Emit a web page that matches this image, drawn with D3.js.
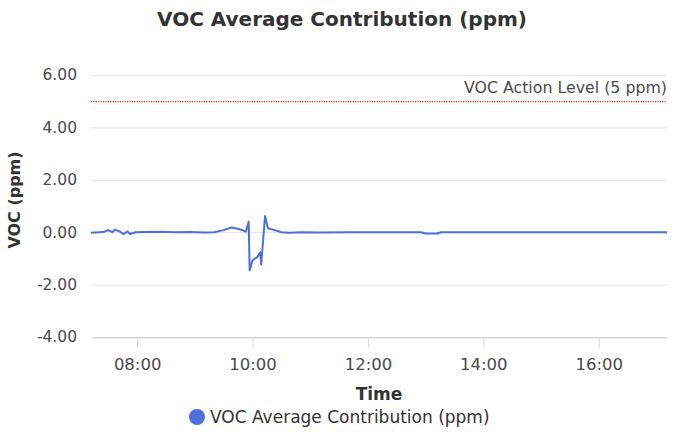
<!DOCTYPE html>
<html>
<head>
<meta charset="utf-8">
<script src="https://cdn.jsdelivr.net/npm/d3@7"></script>
<style>
  body { margin: 0; background: #fff; }
  text { font-family: "DejaVu Sans", sans-serif; }
</style>
</head>
<body>
<div id="chart"></div>
<script>
// readings, "HH:MM" and ppm
const times = ["07:12","07:20","07:26","07:30","07:34","07:37","07:42","07:46","07:50","07:53","07:58",
  "08:10","08:25","08:40","08:55","09:10","09:20","09:30","09:38","09:46","09:53","09:56","09:57",
  "10:00","10:05","10:08","10:09","10:13","10:16","10:23","10:30","10:38","10:50","11:10","11:40",
  "12:20","12:55","13:00","13:12","13:16","13:40","14:30","15:30","16:30","17:11"]
const values = [-0.02,0.0,0.02,0.08,0.0,0.1,0.02,-0.07,0.03,-0.07,0.0,
  0.01,0.02,0.0,0.01,-0.01,0.0,0.08,0.18,0.12,0.02,0.4,-1.45,
  -1.07,-0.95,-0.77,-1.23,0.62,0.15,0.08,0.0,-0.02,0.0,-0.01,0.0,
  0.0,0.0,-0.05,-0.05,0.0,0.0,0.0,0.0,0.0,0.0]
const yTicks = [-4, -2, 0, 2, 4, 6]
const actionLevel = 5
const seriesName = "VOC Average Contribution (ppm)"

const width = 684, height = 432
const plotLeft = 91, plotRight = 667, plotTop = 75, plotBottom = 337
const lineColor = "#4d6fdb"

const parseTime = d3.timeParse("%H:%M")
const dataset = times.map((t, i) => [parseTime(t), values[i]])

const xScale = d3.scaleTime()
                  .domain([parseTime("07:12"), parseTime("17:11")])
                  .range([plotLeft, plotRight])
const yScale = d3.scaleLinear()
                  .domain([-4, 6])
                  .range([plotBottom, plotTop])

const svg = d3.select("#chart")
              .append("svg")
                .attr("width", width)
                .attr("height", height)

// grid lines
svg.append("g")
    .selectAll("line")
    .data(yTicks).enter()
    .append("line")
      .attr("x1", plotLeft).attr("x2", plotRight)
      .attr("y1", d => yScale(d) + 0.5).attr("y2", d => yScale(d) + 0.5)
      .attr("stroke", "#e3e3e3")

// Y Axis
const yAxis = d3.axisLeft(yScale).tickValues(yTicks).tickSize(0).tickPadding(14)
                .tickFormat(d => d.toFixed(2))
const yg = svg.append("g")
    .attr("transform", "translate(" + plotLeft + ",0)")
    .call(yAxis)
yg.select(".domain").remove()
yg.selectAll("text").attr("font-size", 15.5).attr("fill", "#4a4a4a")
    .attr("font-family", "DejaVu Sans, sans-serif")

svg.append("text")
    .text("VOC (ppm)")
    .attr("text-anchor", "middle")
    .attr("font-size", 16)
    .attr("font-weight", "bold")
    .attr("fill", "#333")
    .attr("transform", "translate(20,200)rotate(-90)")

// X Axis
const xAxis = d3.axisBottom(xScale)
                .ticks(d3.timeHour.every(2))
                .tickFormat(d3.timeFormat("%H:%M"))
                .tickSize(10).tickPadding(11).tickSizeOuter(0)
const xg = svg.append("g")
    .attr("transform", "translate(0," + (plotBottom + 0.5) + ")")
    .call(xAxis)
xg.select(".domain").attr("stroke", "#d0d0d0")
xg.selectAll(".tick line").attr("stroke", "#d8d8d8")
xg.selectAll("text").attr("font-size", 16.5).attr("fill", "#4a4a4a")
    .attr("font-family", "DejaVu Sans, sans-serif")

svg.append("text")
    .text("Time")
    .attr("text-anchor", "middle")
    .attr("font-size", 17)
    .attr("font-weight", "bold")
    .attr("fill", "#333")
    .attr("x", (plotLeft + plotRight) / 2)
    .attr("y", 400)

// Title
svg.append("text")
    .text(seriesName)
    .attr("text-anchor", "middle")
    .attr("font-size", 20)
    .attr("font-weight", "bold")
    .attr("fill", "#333")
    .attr("x", width / 2)
    .attr("y", 26)

// action level
svg.append("line")
    .attr("x1", plotLeft).attr("x2", plotRight)
    .attr("y1", yScale(actionLevel) + 0.5).attr("y2", yScale(actionLevel) + 0.5)
    .attr("stroke", "#ff1a1a")
    .attr("stroke-width", 1.2)
    .attr("stroke-dasharray", "1.2,1.2")
svg.append("text")
    .text("VOC Action Level (5 ppm)")
    .attr("text-anchor", "end")
    .attr("font-size", 15.8)
    .attr("fill", "#4a4a4a")
    .attr("x", plotRight)
    .attr("y", yScale(actionLevel) - 8)

// series line
const line = d3.line()
                .x(d => xScale(d[0]))
                .y(d => yScale(d[1]))
svg.append("path")
    .datum(dataset)
    .attr("d", line)
    .attr("fill", "none")
    .attr("stroke", lineColor)
    .attr("stroke-width", 2)
    .attr("stroke-linejoin", "round")

// legend
const legend = svg.append("g").attr("transform", "translate(197,417)")
legend.append("circle").attr("r", 8).attr("fill", lineColor)
legend.append("text")
    .text(seriesName)
    .attr("x", 13)
    .attr("y", 6)
    .attr("font-size", 17)
    .attr("fill", "#333")
</script>
</body>
</html>
